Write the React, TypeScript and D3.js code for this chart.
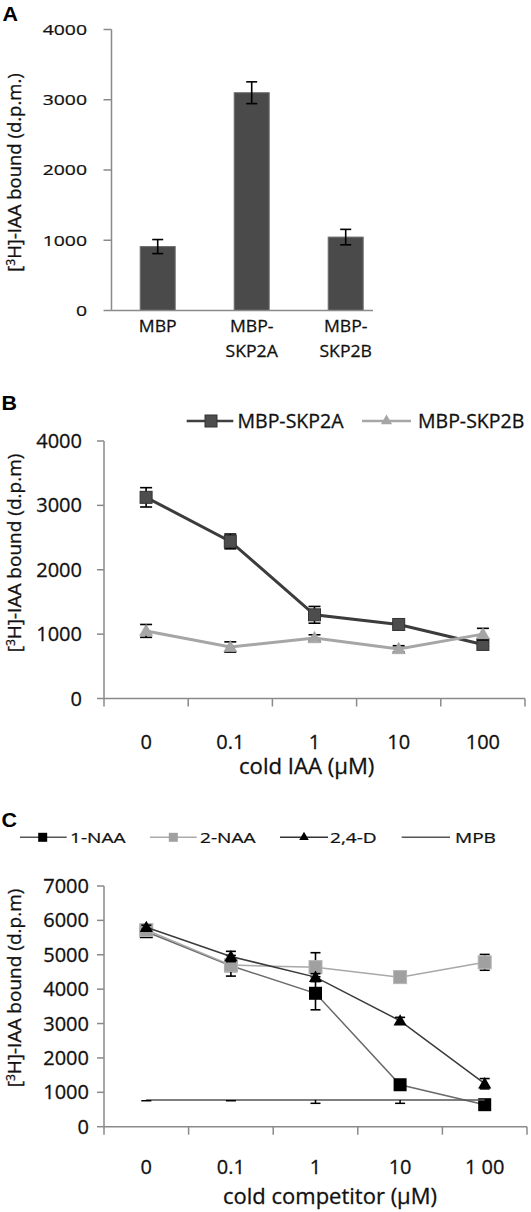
import React from "react";
import * as d3 from "d3";

// ---------- DATA ----------
const catsA = ["MBP", "MBP-SKP2A", "MBP-SKP2B"];
const catLinesA = [["MBP"], ["MBP-", "SKP2A"], ["MBP-", "SKP2B"]];
const valuesA = [910, 3100, 1045];
const errorsA = [100, 155, 110];
const ticksA = [0, 1000, 2000, 3000, 4000];

const concB = ["0", "0.1", "1", "10", "100"];
const skp2aB = [3125, 2440, 1300, 1150, 840];
const skp2aErrB = [150, 115, 130, 40, 30];
const skp2bB = [1050, 800, 940, 770, 1000];
const skp2bErrB = [100, 80, 50, 50, 90];
const ticksB = [0, 1000, 2000, 3000, 4000];

const concC = ["0", "0.1", "1", "10", "1 00"];
const naa1C = [5670, 4680, 3880, 1220, 640];
const naa1ErrC = [60, 300, 480, 80, 60];
const naa2C = [5720, 4700, 4640, 4350, 4780];
const naa2ErrC = [60, 100, 420, 60, 230];
const d24C = [5800, 4950, 4350, 3080, 1250];
const d24ErrC = [60, 150, 100, 100, 150];
const mpbC = [780, 780, 780, 780, 780];
const mpbErrMinusC = [25, 25, 100, 100, 0];
const ticksC = [0, 1000, 2000, 3000, 4000, 5000, 6000, 7000];

const FONT = "'Open Sans', Lato, sans-serif";
const AXIS = "#8a8a8a";

type TxtProps = {
  x: number; y: number; size: number; anchor?: string; sx?: number; sy?: number;
  rot?: number; weight?: string | number; fill?: string; family?: string; sw?: number; children: React.ReactNode;
};
const Txt = ({ x, y, size, anchor = "start", sx = 1, sy = 1, rot = 0, weight = "normal", fill = "#111", family = FONT, sw = 0.3, children }: TxtProps) => (
  <text
    transform={`translate(${x},${y}) rotate(${rot}) scale(${sx},${sy})`}
    fontSize={size}
    fontFamily={family}
    fontWeight={weight}
    textAnchor={anchor}
    fill={fill}
    stroke={fill}
    strokeWidth={sw}
  >
    {children}
  </text>
);

const ErrBar = ({ x, y1, y2, cap, w = 1.6 }: { x: number; y1: number; y2: number; cap: number; w?: number }) => (
  <g stroke="#000" strokeWidth={w} fill="none">
    <line x1={x} x2={x} y1={y1} y2={y2} />
    <line x1={x - cap / 2} x2={x + cap / 2} y1={y1} y2={y1} />
    <line x1={x - cap / 2} x2={x + cap / 2} y1={y2} y2={y2} />
  </g>
);

const triPath = (size: number) => d3.symbol(d3.symbolTriangle, size)() as string;
const LETTER_FONT = "'Liberation Sans', Arial, sans-serif";

// ---------- PANEL A ----------
const PanelA = () => {
  const y = d3.scaleLinear().domain([0, 4000]).range([310.5, 29.5]);
  const x = d3.scalePoint<string>().domain(catsA).range([110.7, 392.7]).padding(0.5);
  const barW = 35;
  const axisX = 111.5;
  return (
    <g>
      <Txt x={2.5} y={20.7} size={19.5} weight="bold" sx={1.1} family={LETTER_FONT} fill="#000" sw={0}>A</Txt>
      {catsA.map((c, i) => (
        <rect key={c} x={(x(c) as number) - barW / 2} y={y(valuesA[i])} width={barW} height={y(0) - y(valuesA[i])}
          fill="#4a4a4a" stroke="#6e6e6e" strokeWidth={1} />
      ))}
      {catsA.map((c, i) => (
        <ErrBar key={c} x={x(c) as number} y1={y(valuesA[i] + errorsA[i])} y2={y(valuesA[i] - errorsA[i])} cap={11} />
      ))}
      <line x1={axisX} x2={axisX} y1={y(4000)} y2={y(0)} stroke={AXIS} strokeWidth={1.5} />
      <line x1={axisX} x2={373} y1={y(0)} y2={y(0)} stroke={AXIS} strokeWidth={1.5} />
      {ticksA.map((t) => (
        <g key={t}>
          <line x1={axisX - 8} x2={axisX} y1={y(t)} y2={y(t)} stroke={AXIS} strokeWidth={1.5} />
          <Txt x={87} y={y(t) + 5.3} size={19} sx={1.02} sy={0.78} anchor="end">{d3.format("d")(t)}</Txt>
        </g>
      ))}
      {catsA.map((c, i) =>
        catLinesA[i].map((ln, j) => (
          <Txt key={c + j} x={x(c) as number} y={331.7 + j * 25} size={18} sx={0.98} sy={0.88} anchor="middle">{ln}</Txt>
        ))
      )}
      <Txt x={21} y={172.5} size={18.5} rot={-90} anchor="middle">
        [<tspan fontSize={12} dy={-6}>3</tspan><tspan dy={6}>H]-IAA bound (d.p.m.)</tspan>
      </Txt>
    </g>
  );
};

// ---------- PANEL B ----------
const PanelB = () => {
  const y = d3.scaleLinear().domain([0, 4000]).range([698.5, 441]);
  const x = d3.scalePoint<string>().domain(concB).range([104, 525]).padding(0.5);
  const step = x.step();
  const axisX = 104;
  const line = d3.line<number>().x((_, i) => x(concB[i]) as number).y((v) => y(v));
  const bounds = concB.map((c) => (x(c) as number) - step / 2).concat([(x(concB[4]) as number) + step / 2]);
  return (
    <g>
      <Txt x={1.5} y={410} size={19.5} weight="bold" sx={1.1} family={LETTER_FONT} fill="#000" sw={0}>B</Txt>
      {/* legend */}
      <line x1={186.7} x2={233.3} y1={421} y2={421} stroke="#3f3f3f" strokeWidth={2.5} />
      <rect x={211 - 6} y={421 - 6} width={12} height={12} fill="#4d4d4d" stroke="#333" strokeWidth={1} />
      <Txt x={237.5} y={428} size={19.5}>MBP-SKP2A</Txt>
      <line x1={362} x2={411} y1={421} y2={421} stroke="#a6a6a6" strokeWidth={2.5} />
      <path d={triPath(55)} transform={`translate(386.5,421)`} fill="#a6a6a6" />
      <Txt x={418} y={428} size={19.5}>MBP-SKP2B</Txt>
      {/* axes */}
      <line x1={axisX} x2={axisX} y1={y(4000)} y2={y(0)} stroke={AXIS} strokeWidth={1.5} />
      <line x1={axisX} x2={525} y1={y(0)} y2={y(0)} stroke={AXIS} strokeWidth={1.5} />
      {ticksB.map((t) => (
        <g key={t}>
          <line x1={axisX - 7} x2={axisX} y1={y(t)} y2={y(t)} stroke={AXIS} strokeWidth={1.5} />
          <Txt x={82} y={y(t) + 7} size={20} anchor="end">{d3.format("d")(t)}</Txt>
        </g>
      ))}
      {bounds.map((b, i) => (
        <line key={i} x1={b} x2={b} y1={y(0)} y2={y(0) + 8} stroke={AXIS} strokeWidth={1.5} />
      ))}
      {concB.map((c) => (
        <Txt key={c} x={x(c) as number} y={749} size={20} anchor="middle">{c}</Txt>
      ))}
      <Txt x={306.7} y={773.5} size={21.5} sx={1.03} anchor="middle">cold  IAA (µM)</Txt>
      <Txt x={21} y={553} size={19} rot={-90} anchor="middle">
        [<tspan fontSize={12} dy={-6}>3</tspan><tspan dy={6}>H]-IAA bound (d.p.m)</tspan>
      </Txt>
      {/* series SKP2A */}
      <path d={line(skp2aB) as string} fill="none" stroke="#3c3c3c" strokeWidth={3} />
      {concB.map((c, i) => (
        <ErrBar key={c} x={x(c) as number} y1={y(skp2aB[i] + skp2aErrB[i])} y2={y(skp2aB[i] - skp2aErrB[i])} cap={12} />
      ))}
      {concB.map((c, i) => (
        <rect key={c} x={(x(c) as number) - 6} y={y(skp2aB[i]) - 6} width={12} height={12} fill="#4d4d4d" stroke="#333" strokeWidth={1} />
      ))}
      {/* series SKP2B */}
      <path d={line(skp2bB) as string} fill="none" stroke="#a6a6a6" strokeWidth={3} />
      {concB.map((c, i) => (
        <ErrBar key={c} x={x(c) as number} y1={y(skp2bB[i] + skp2bErrB[i])} y2={y(skp2bB[i] - skp2bErrB[i])} cap={12} />
      ))}
      {concB.map((c, i) => (
        <path key={c} d={triPath(75)} transform={`translate(${x(c)},${y(skp2bB[i]) + 1})`} fill="#a6a6a6" stroke="#999" strokeWidth={0.5} />
      ))}
    </g>
  );
};

// ---------- PANEL C ----------
const PanelC = () => {
  const y = d3.scaleLinear().domain([0, 7000]).range([1126.7, 886]);
  const x = d3.scalePoint<string>().domain(concC).range([104, 527]).padding(0.5);
  const step = x.step();
  const axisX = 104;
  const line = d3.line<number>().x((_, i) => x(concC[i]) as number).y((v) => y(v));
  const bounds = concC.map((c) => (x(c) as number) - step / 2).concat([(x(concC[4]) as number) + step / 2]);
  const legY = 837.3;
  return (
    <g>
      <Txt x={1.5} y={827} size={19.5} weight="bold" sx={1.1} family={LETTER_FONT} fill="#000" sw={0}>C</Txt>
      {/* legend */}
      <line x1={20} x2={66.7} y1={legY} y2={legY} stroke="#555" strokeWidth={1.5} />
      <rect x={42.7 - 4.5} y={legY - 4.5} width={9} height={9} fill="#000" />
      <Txt x={70} y={legY + 5.5} size={18} sx={1.06} sy={0.8}>1-NAA</Txt>
      <line x1={150} x2={196.7} y1={legY} y2={legY} stroke="#aaa" strokeWidth={1.5} />
      <rect x={173.3 - 4.5} y={legY - 4.5} width={9} height={9} fill="#a0a0a0" />
      <Txt x={200} y={legY + 5.5} size={18} sx={1.06} sy={0.8}>2-NAA</Txt>
      <line x1={280} x2={328} y1={legY} y2={legY} stroke="#333" strokeWidth={1.5} />
      <path d={triPath(40)} transform={`translate(304,${legY})`} fill="#000" />
      <Txt x={330} y={legY + 5.5} size={18} sx={1.06} sy={0.8}>2,4-D</Txt>
      <line x1={401.7} x2={450} y1={legY} y2={legY} stroke="#555" strokeWidth={1.5} />
      <Txt x={455} y={legY + 5.5} size={18} sx={1.06} sy={0.8}>MPB</Txt>
      {/* axes */}
      <line x1={axisX} x2={axisX} y1={y(7000)} y2={y(0)} stroke={AXIS} strokeWidth={1.5} />
      <line x1={axisX} x2={527} y1={y(0)} y2={y(0)} stroke={AXIS} strokeWidth={1.5} />
      {ticksC.map((t) => (
        <g key={t}>
          <line x1={axisX - 7} x2={axisX} y1={y(t)} y2={y(t)} stroke={AXIS} strokeWidth={1.5} />
          <Txt x={89} y={y(t) + 7} size={20} anchor="end">{d3.format("d")(t)}</Txt>
        </g>
      ))}
      {bounds.map((b, i) => (
        <line key={i} x1={b} x2={b} y1={y(0)} y2={y(0) + 8} stroke={AXIS} strokeWidth={1.5} />
      ))}
      {concC.map((c) => (
        <Txt key={c} x={x(c) as number} y={1174} size={20} anchor="middle">{c}</Txt>
      ))}
      <Txt x={330} y={1204} size={22} anchor="middle">cold competitor (µM)</Txt>
      <Txt x={21} y={988} size={19} rot={-90} anchor="middle">
        [<tspan fontSize={12} dy={-6}>3</tspan><tspan dy={6}>H]-IAA bound (d.p.m)</tspan>
      </Txt>
      {/* 1-NAA */}
      <path d={line(naa1C) as string} fill="none" stroke="#6a6a6a" strokeWidth={1.5} />
      {concC.map((c, i) => (
        <ErrBar key={c} x={x(c) as number} y1={y(naa1C[i] + naa1ErrC[i])} y2={y(naa1C[i] - naa1ErrC[i])} cap={10} />
      ))}
      {concC.map((c, i) => (
        <rect key={c} x={(x(c) as number) - 6.5} y={y(naa1C[i]) - 6.5} width={13} height={13} fill="#000" />
      ))}
      {/* 2-NAA */}
      <path d={line(naa2C) as string} fill="none" stroke="#a8a8a8" strokeWidth={1.5} />
      {concC.map((c, i) => (
        <ErrBar key={c} x={x(c) as number} y1={y(naa2C[i] + naa2ErrC[i])} y2={y(naa2C[i] - naa2ErrC[i])} cap={10} />
      ))}
      {concC.map((c, i) => (
        <rect key={c} x={(x(c) as number) - 6.5} y={y(naa2C[i]) - 6.5} width={13} height={13} fill="#a0a0a0" stroke="#b5b5b5" strokeWidth={1} />
      ))}
      {/* 2,4-D */}
      <path d={line(d24C) as string} fill="none" stroke="#3a3a3a" strokeWidth={1.5} />
      {concC.map((c, i) => (
        <ErrBar key={c} x={x(c) as number} y1={y(d24C[i] + d24ErrC[i])} y2={y(d24C[i] - d24ErrC[i])} cap={10} />
      ))}
      {concC.map((c, i) => (
        <path key={c} d={triPath(75)} transform={`translate(${x(c)},${y(d24C[i]) + 1})`} fill="#000" />
      ))}
      {/* MPB */}
      <path d={line(mpbC) as string} fill="none" stroke="#555" strokeWidth={1.5} />
      {concC.map((c, i) =>
        mpbErrMinusC[i] > 0 ? (
          <g key={c} stroke="#000" strokeWidth={1.5}>
            <line x1={x(c) as number} x2={x(c) as number} y1={y(mpbC[i])} y2={y(mpbC[i] - mpbErrMinusC[i])} />
            <line x1={(x(c) as number) - 5} x2={(x(c) as number) + 5} y1={y(mpbC[i] - mpbErrMinusC[i])} y2={y(mpbC[i] - mpbErrMinusC[i])} />
          </g>
        ) : null
      )}
    </g>
  );
};

export default function App() {
  return (
    <svg width={531} height={1212} style={{ position: "absolute", left: 0, top: 0, background: "#fff" }}>
      <rect width={531} height={1212} fill="#fff" />
      <PanelA />
      <PanelB />
      <PanelC />
    </svg>
  );
}
